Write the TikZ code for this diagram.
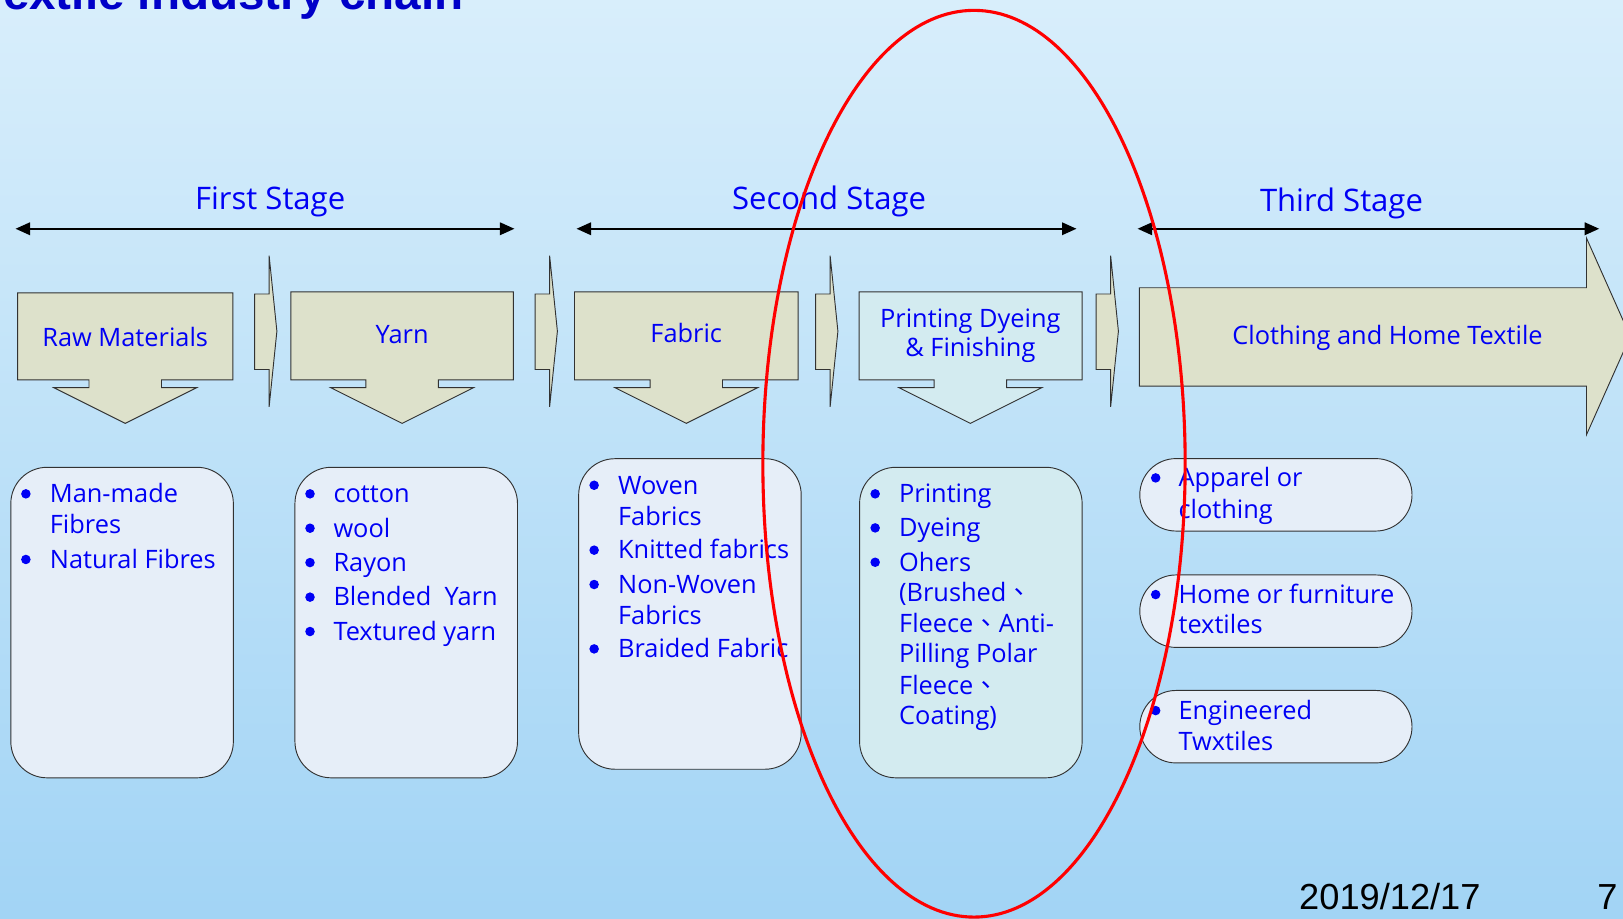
\documentclass[tikz,border=0pt]{standalone}
\usepackage{fontspec}
\setmainfont{Open Sans}
\newfontfamily\cjk{Noto Sans CJK TC}
\newfontfamily\arialf{Liberation Sans}
\usetikzlibrary{arrows.meta}

\definecolor{bgtop}{RGB}{216,238,251}
\definecolor{bgbot}{RGB}{162,212,245}
\definecolor{txtblue}{RGB}{0,0,245}
\definecolor{ttlblue}{RGB}{0,0,200}
\definecolor{beige}{RGB}{221,225,203}
\definecolor{cyanbox}{RGB}{211,235,240}
\definecolor{listfill}{RGB}{230,238,248}
\definecolor{edge}{RGB}{50,50,50}

\tikzset{
  shapeline/.style={draw=edge, line width=0.9pt, line join=miter},
  lt/.style={text=txtblue, font=\fontsize{24.5}{29}\selectfont, inner sep=0pt, anchor=base west},
  hdr/.style={text=txtblue, font=\fontsize{24.5}{29}\selectfont, inner sep=0pt, anchor=base},
  stagelbl/.style={text=txtblue, font=\fontsize{30}{36}\selectfont, inner sep=0pt, anchor=base},
  stagearrow/.style={draw=black, line width=2pt, {Triangle[length=14pt,width=12pt]}-{Triangle[length=14pt,width=12pt]}},
  listbox/.style={draw=edge, line width=0.9pt, fill=listfill, rounded corners=35pt, anchor=north west, inner sep=0pt, minimum width=215pt, minimum height=300pt},
  pillbox/.style={listbox, minimum width=263pt, minimum height=70pt},
  datefont/.style={font=\arialf\fontsize{35}{40}\selectfont, text=black, inner sep=0pt, anchor=base west}
}

% down-arrow callout: #1 name, #2 L, #3 R, #4 T, #5 B, #6 C, #7 fill
\newcommand\mycallout[7]{%
  \draw[shapeline, fill=#7] (#2,#4) -- (#3,#4) -- (#3,#5) -- ({#6+35},#5) -- ({#6+35},{#5+7.5})
    -- ({#6+69},{#5+7.5}) -- (#6,{#5+42}) -- ({#6-69},{#5+7.5}) -- ({#6-35},{#5+7.5})
    -- ({#6-35},#5) -- (#2,#5) -- cycle;
  \coordinate (#1) at (#6,{(#4+#5)/2});}
% thin right connector arrow: #1 left x
\newcommand\myconn[1]{%
  \draw[shapeline, fill=beige] (#1,284) -- ({#1+14},284) -- ({#1+14},247) -- ({#1+21.5},320)
    -- ({#1+14},393) -- ({#1+14},357) -- (#1,357) -- cycle;}
\newcommand\mybul[2]{\fill[txtblue] (#1,{#2-8.5}) circle (4.6pt);}

\begin{document}
\begin{tikzpicture}[x=1pt,y=-1pt]
\useasboundingbox (0,0) rectangle (1568,887);
\clip (0,0) rectangle (1568,887);
\shade[top color=bgtop, bottom color=bgbot] (0,0) rectangle (1568,887);

% title (cut off at the top)
\node[font=\arialf\bfseries\fontsize{46}{50}\selectfont, text=ttlblue, anchor=base west, inner sep=0pt] (title) at (-22,9) {Textile industry chain};

% stages
\node[stagelbl] (st1) at (261,202) {First Stage};
\node[stagelbl] (st2) at (801,202.2) {Second Stage};
\node[stagelbl] (st3) at (1296,204) {Third Stage};
\coordinate (s1l) at (15,221);   \coordinate (s1r) at (497,221);
\coordinate (s2l) at (557,221);  \coordinate (s2r) at (1040,221);
\coordinate (s3l) at (1099,221); \coordinate (s3r) at (1545,221);
\draw[stagearrow] (s1l) -- (s1r);
\draw[stagearrow] (s2l) -- (s2r);
\draw[stagearrow] (s3l) -- (s3r);

% callouts
\mycallout{craw}{17}{225}{283}{367}{121}{beige}
\mycallout{cyarn}{281}{496}{282}{367}{388.5}{beige}
\mycallout{cfab}{555}{771}{282}{367}{663}{beige}
\mycallout{cpdf}{830}{1045.5}{282}{367}{937.5}{cyanbox}
\myconn{246}
\myconn{517}
\myconn{788}
\myconn{1059}
\draw[shapeline, fill=beige] (1100.8,278) -- (1532.7,278) -- (1532.7,230) -- (1575,325)
  -- (1532.7,420) -- (1532.7,373) -- (1100.8,373) -- cycle;

\node[hdr] (hraw) at (121,334.3) {Raw Materials};
\node[hdr] (hyarn) at (388.5,331.7) {Yarn};
\node[hdr] (hfab) at (663,331) {Fabric};
\node[hdr] (hpdf1) at (937.5,316.5) {Printing Dyeing};
\node[hdr] (hpdf2) at (937.5,344.5) {\& Finishing};
\node[hdr] (hcl) at (1340.5,332.6) {Clothing and Home Textile};

% list boxes
\node[listbox] (lb1) at (10,451) {};
\node[listbox] (lb2) at (284.5,451) {};
\node[listbox] (lb3) at (558.6,442.7) {};
\node[listbox, fill=cyanbox] (lb4) at (830,451) {};
\node[pillbox] (pb1) at (1100.7,442.6) {};
\node[pillbox] (pb2) at (1100.7,555) {};
\node[pillbox] (pb3) at (1100.7,666.6) {};

% box 1
\mybul{25}{485.6} \mybul{25}{549}
\node[lt] (t11) at (48,485.6) {Man-made};
\node[lt] (t12) at (48,515) {Fibres};
\node[lt] (t13) at (48,549) {Natural Fibres};
% box 2
\mybul{299.5}{485.6} \mybul{299.5}{518.8} \mybul{299.5}{552} \mybul{299.5}{585.4} \mybul{299.5}{618.6}
\node[lt] (t21) at (322,485.6) {cotton};
\node[lt] (t22) at (322,518.8) {wool};
\node[lt] (t23) at (322,552) {Rayon};
\node[lt] (t24) at (322,585.4) {Blended\ \ Yarn};
\node[lt] (t25) at (322,618.6) {Textured yarn};
% box 3
\mybul{574}{477.3} \mybul{574}{540} \mybul{574}{573.2} \mybul{574}{635.4}
\node[lt] (t31) at (597,477.3) {Woven};
\node[lt] (t32) at (597,507.2) {Fabrics};
\node[lt] (t33) at (597,540) {Knitted fabrics};
\node[lt] (t34) at (597,573.2) {Non-Woven};
\node[lt] (t35) at (597,603.2) {Fabrics};
\node[lt] (t36) at (597,635.4) {Braided Fabric};
% box 4
\mybul{845.5}{485.6} \mybul{845.5}{518.5} \mybul{845.5}{551.7}
\node[lt] (t41) at (868.5,485.6) {Printing};
\node[lt] (t42) at (868.5,518.5) {Dyeing};
\node[lt] (t43) at (868.5,551.7) {Ohers};
\node[lt] (t44) at (868.5,581.3) {(Brushed{\cjk 、}};
\node[lt] (t45) at (868.5,611.2) {Fleece{\cjk 、}Anti-};
\node[lt] (t46) at (868.5,640) {Pilling Polar};
\node[lt] (t47) at (868.5,670.5) {Fleece{\cjk 、}};
\node[lt] (t48) at (868.5,699.5) {Coating)};
% pills
\mybul{1116.5}{470.2} \mybul{1116.5}{582.9} \mybul{1116.5}{695}
\node[lt] (p11) at (1138.4,470.2) {Apparel or};
\node[lt] (p12) at (1138.4,501.4) {clothing};
\node[lt] (p21) at (1138.4,582.9) {Home or furniture};
\node[lt] (p22) at (1138.4,612.5) {textiles};
\node[lt] (p31) at (1138.4,695) {Engineered};
\node[lt] (p32) at (1138.4,724.6) {Twxtiles};

% footer
\node[datefont] (date) at (1255,879) {2019/12/17};
\node[datefont] (pg) at (1543,879) {7};

% red ellipse
\draw[red, line width=3pt] (941,448) ellipse [x radius=204pt, y radius=438pt];
\end{tikzpicture}
\end{document}
